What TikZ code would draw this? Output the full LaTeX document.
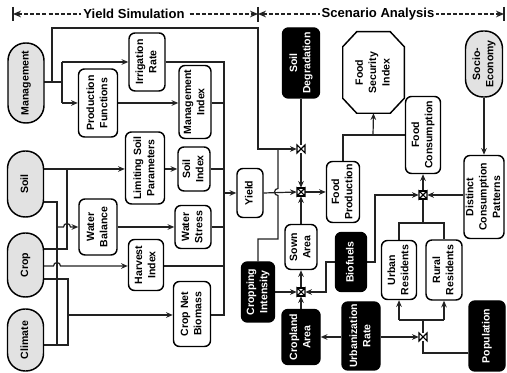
\documentclass[tikz,border=0pt]{standalone}
\usepackage{fontspec}
\usepackage{graphicx}
\newfontfamily\arialf{Liberation Sans}
\usetikzlibrary{arrows.meta,backgrounds,calc}
\definecolor{pillgrey}{HTML}{E2E2E2}
\definecolor{lin}{HTML}{222222}
\newcommand{\vt}[1]{\rotatebox{90}{\begin{tabular}{@{}c@{}}#1\end{tabular}}}
\newcommand{\nfont}{\arialf\bfseries\fontsize{7.9pt}{10pt}\selectfont}
\newcommand{\hfont}{\arialf\bfseries\fontsize{9.8pt}{11pt}\selectfont}
\begin{document}
\begin{tikzpicture}[x=0.75pt,y=-0.75pt,
  box/.style={draw=black, line width=1.1pt, rounded corners=4.5pt, fill=white, inner sep=0pt, font=\nfont},
  wh/.style 2 args={minimum width=#1*0.75pt, minimum height=#2*0.75pt},
  pill/.style={box, fill=pillgrey, rounded corners=13.2pt},
  blk/.style={box, fill=black, text=white},
  conn/.style={line width=0.9pt, draw=lin},
  arr/.style={conn, -{Stealth[length=5pt,width=4.2pt]}},
  vnode/.style={inner sep=0pt, minimum size=6pt},
  hdr/.style={line width=1pt, draw=lin, dash pattern=on 3pt off 1.6pt},
  hbar/.style={line width=1.3pt, draw=lin},
  hlabel/.style={fill=white, inner sep=1.5pt, font=\hfont},
  valveh/.pic={\draw[line width=0.8pt, fill=white] (-4,-4) -- (4,4) -- (4,-4) -- (-4,4) -- cycle;},
  valvex/.pic={\draw[line width=0.8pt, fill=white] (-4,-4) -- (4,4) -- (4,-4) -- (-4,4) -- cycle;
               \draw[line width=0.8pt] (-4,-4) -- (4,-4) (-4,4) -- (4,4);}
]
\useasboundingbox (0,0) rectangle (507,373);

% header
\coordinate (h0) at (13,14);
\coordinate (h1) at (258,14);
\coordinate (h2) at (504,14);
\node[hlabel] (t1) at (134,14) {Yield Simulation};
\node[hlabel] (t2) at (378,14) {Scenario Analysis};

% pills
\node[pill, wh={36}{80}] (mgmt) at (26,83) {\vt{Management}};
\node[pill, wh={36}{66}] (soil) at (25.5,184) {\vt{Soil}};
\node[pill, wh={36}{64}] (crop) at (25.5,265) {\vt{Crop}};
\node[pill, wh={36}{62}] (climate) at (25.5,340) {\vt{Climate}};
\node[pill, wh={37}{66}] (socio) at (484,64) {\vt{Socio-\\Economy}};

% white boxes
\node[box, wh={39}{68}] (prodf) at (98,103) {\vt{Production\\Functions}};
\node[box, wh={36}{58}] (irr) at (147,62) {\vt{Irrigation\\Rate}};
\node[box, wh={32}{73}] (mgi) at (195,102) {\vt{Management\\Index}};
\node[box, wh={39}{72}] (lsp) at (145,168) {\vt{Limiting Soil\\Parameters}};
\node[box, wh={32}{44}] (soili) at (194,169) {\vt{Soil\\Index}};
\node[box, wh={38}{56}] (wbal) at (98,227) {\vt{Water\\Balance}};
\node[box, wh={36}{43}] (wstress) at (193,227) {\vt{Water\\Stress}};
\node[box, wh={35}{51}] (hidx) at (146,265) {\vt{Harvest\\Index}};
\node[box, wh={37}{65}] (cnb) at (192,314) {\vt{Crop Net\\Biomass}};
\node[box, wh={26}{49}] (yield) at (250,193) {\vt{Yield}};
\node[box, wh={32}{45}] (sown) at (301,247) {\vt{Sown\\Area}};
\node[box, wh={33}{61}] (foodp) at (343,192) {\vt{Food\\Production}};
\node[box, wh={35}{77}] (foodc) at (423,135) {\vt{Food\\Consumption}};
\node[box, wh={40}{83}] (dcp) at (484,197) {\vt{Distinct\\Consumption\\Patterns}};
\node[box, wh={35}{59}] (urban) at (399,270) {\vt{Urban\\Residents}};
\node[box, wh={36}{60}] (rural) at (444,270) {\vt{Rural\\Residents}};

% black boxes
\node[blk, wh={37}{70}] (soildeg) at (301,63) {\vt{Soil\\Degradation}};
\node[blk, wh={33}{60}] (cropint) at (258,292) {\vt{Cropping\\Intensity}};
\node[blk, wh={31}{59}] (biofuels) at (351,262) {\vt{Biofuels}};
\node[blk, wh={38}{55}] (cropland) at (301,337) {\vt{Cropland\\Area}};
\node[blk, wh={38}{68}] (urbrate) at (361,336) {\vt{Urbanization\\Rate}};
\node[blk, wh={36}{70}] (population) at (487,336) {\vt{Population}};

% octagon
\node[wh={61}{81}, inner sep=0pt, font=\nfont] (fsi) at (373.5,72.5) {\vt{Food\\Security\\Index}};
\draw[line width=1.1pt] ($(fsi.north west)+(14,0)$) -- ($(fsi.north east)+(-14,0)$) -- ($(fsi.north east)+(0,15)$)
  -- ($(fsi.south east)+(0,-15)$) -- ($(fsi.south east)+(-14,0)$) -- ($(fsi.south west)+(14,0)$)
  -- ($(fsi.south west)+(0,-15)$) -- ($(fsi.north west)+(0,15)$) -- cycle;

% valves
\node[vnode] (v1) at (301,149) {};
\node[vnode] (v2) at (301,192) {};
\node[vnode] (v3) at (301,292) {};
\node[vnode] (v4) at (423,195) {};
\node[vnode] (v5) at (423,337) {};
\pic at (v1) {valveh};
\pic at (v2) {valvex};
\pic at (v3) {valvex};
\pic at (v4) {valvex};
\pic at (v5) {valveh};

\begin{scope}[on background layer]
\fill[white] (0,0) rectangle (507,373);
% header lines
\draw[hdr, {Stealth[length=6pt,width=5pt]}-{Stealth[length=6pt,width=5pt]}] (h0) -- (h1);
\draw[hdr, {Stealth[length=6pt,width=5pt]}-{Stealth[length=6pt,width=5pt]}] (h1) -- (h2);
\draw[hbar] ($(h0)+(0,-7)$) -- ($(h0)+(0,7)$);
\draw[hbar] ($(h1)+(0,-7)$) -- ($(h1)+(0,8)$);
\draw[hbar] ($(h2)+(0,-7)$) -- ($(h2)+(0,7)$);

% management
\draw[conn] (mgmt.center |- 0,82) -- (62,82);
\draw[conn] (62,62) -- (62,103);
\draw[arr] (62,62) -- (irr.west |- 0,62);
\draw[arr] (62,103) -- (prodf.west |- 0,103);
\draw[arr] (52,82) -- (52,28) -- (258,28) -- (258,149) -- (v1.west);
\draw[conn] (278,149) -- (278,188.5) arc[start angle=270,end angle=90,radius=3.5] -- (278,239) -- (258,239) -- (cropint.north);

% collector
\draw[conn] (irr.east |- 0,62) -- (224,62) -- (224,315) -- (cnb.east |- 0,315);
\draw[conn] (mgi.east |- 0,103) -- (224,103);
\draw[conn] (soili.east |- 0,169) -- (224,169);
\draw[conn] (wstress.east |- 0,227) -- (224,227);
\draw[conn] (hidx.east |- 0,266) -- (224,266);
\draw[arr] (224,193) -- (yield.west);
\draw[arr] (prodf.east |- 0,103) -- (mgi.west |- 0,103);
\draw[arr] (lsp.east |- 0,169) -- (soili.west |- 0,169);
\draw[arr] (wbal.east |- 0,227) -- (wstress.west |- 0,227);

% soil crop climate
\draw[arr] (soil.center |- 0,169) -- (lsp.west |- 0,169);
\draw[conn] (67,169) -- (67,249) -- (crop.center |- 0,249);
\draw[conn] (soil.center |- 0,202) -- (57,202) -- (57,345);
\draw[conn] (climate.center |- 0,345) -- (68,345) -- (68,279) -- (crop.center |- 0,279);
\draw[arr] (57,227) -- (63.5,227) arc[start angle=180,end angle=360,radius=3.5] -- (wbal.west |- 0,227);
\draw[arr] (crop.center |- 0,266) -- (53.5,266) arc[start angle=180,end angle=360,radius=3.5] -- (hidx.west |- 0,266);
\draw[arr] (68,315) -- (cnb.west |- 0,315);

% scenario side
\draw[conn] (soildeg.south) -- (v1.north);
\draw[arr] (v1.south) -- (v2.north);
\draw[arr] (yield.east) -- (v2.west);
\draw[arr] (v2.east) -- (foodp.west |- v2);
\draw[arr] (sown.north) -- (v2.south);
\draw[arr] (v3.north) -- (sown.south);
\draw[arr] (cropint.east) -- (v3.west);
\draw[arr] (cropland.north) -- (v3.south);
\draw[arr] (biofuels.west) -- (326,262) -- (326,292) -- (v3.east);
\draw[arr] (biofuels.east) -- (375,262) -- (375,195) -- (v4.west);
\draw[arr] (dcp.west |- v4) -- (v4.east);
\draw[arr] (v4.north) -- (foodc.south);
\draw[conn] (423,223) -- (v4.south);
\draw[conn] (urban.north) -- (399,223) -- (444,223) -- (rural.north);
\draw[conn] (foodp.north) -- (343,135) -- (foodc.west);
\draw[arr] (373,135) -- (fsi.south);
\draw[arr] (socio.south) -- (dcp.north);
\draw[conn] (population.west |- 0,353) -- (423,353) -- (v5.south);
\draw[conn] (v5.north) -- (423,320);
\draw[conn] (399,320) -- (444,320);
\draw[arr] (399,320) -- (urban.south);
\draw[arr] (444,320) -- (rural.south);
\draw[arr] (urbrate.east |- v5) -- (v5.west);
\draw[arr] (urbrate.west |- v5) -- (cropland.east |- v5);
\end{scope}
\end{tikzpicture}
\end{document}
